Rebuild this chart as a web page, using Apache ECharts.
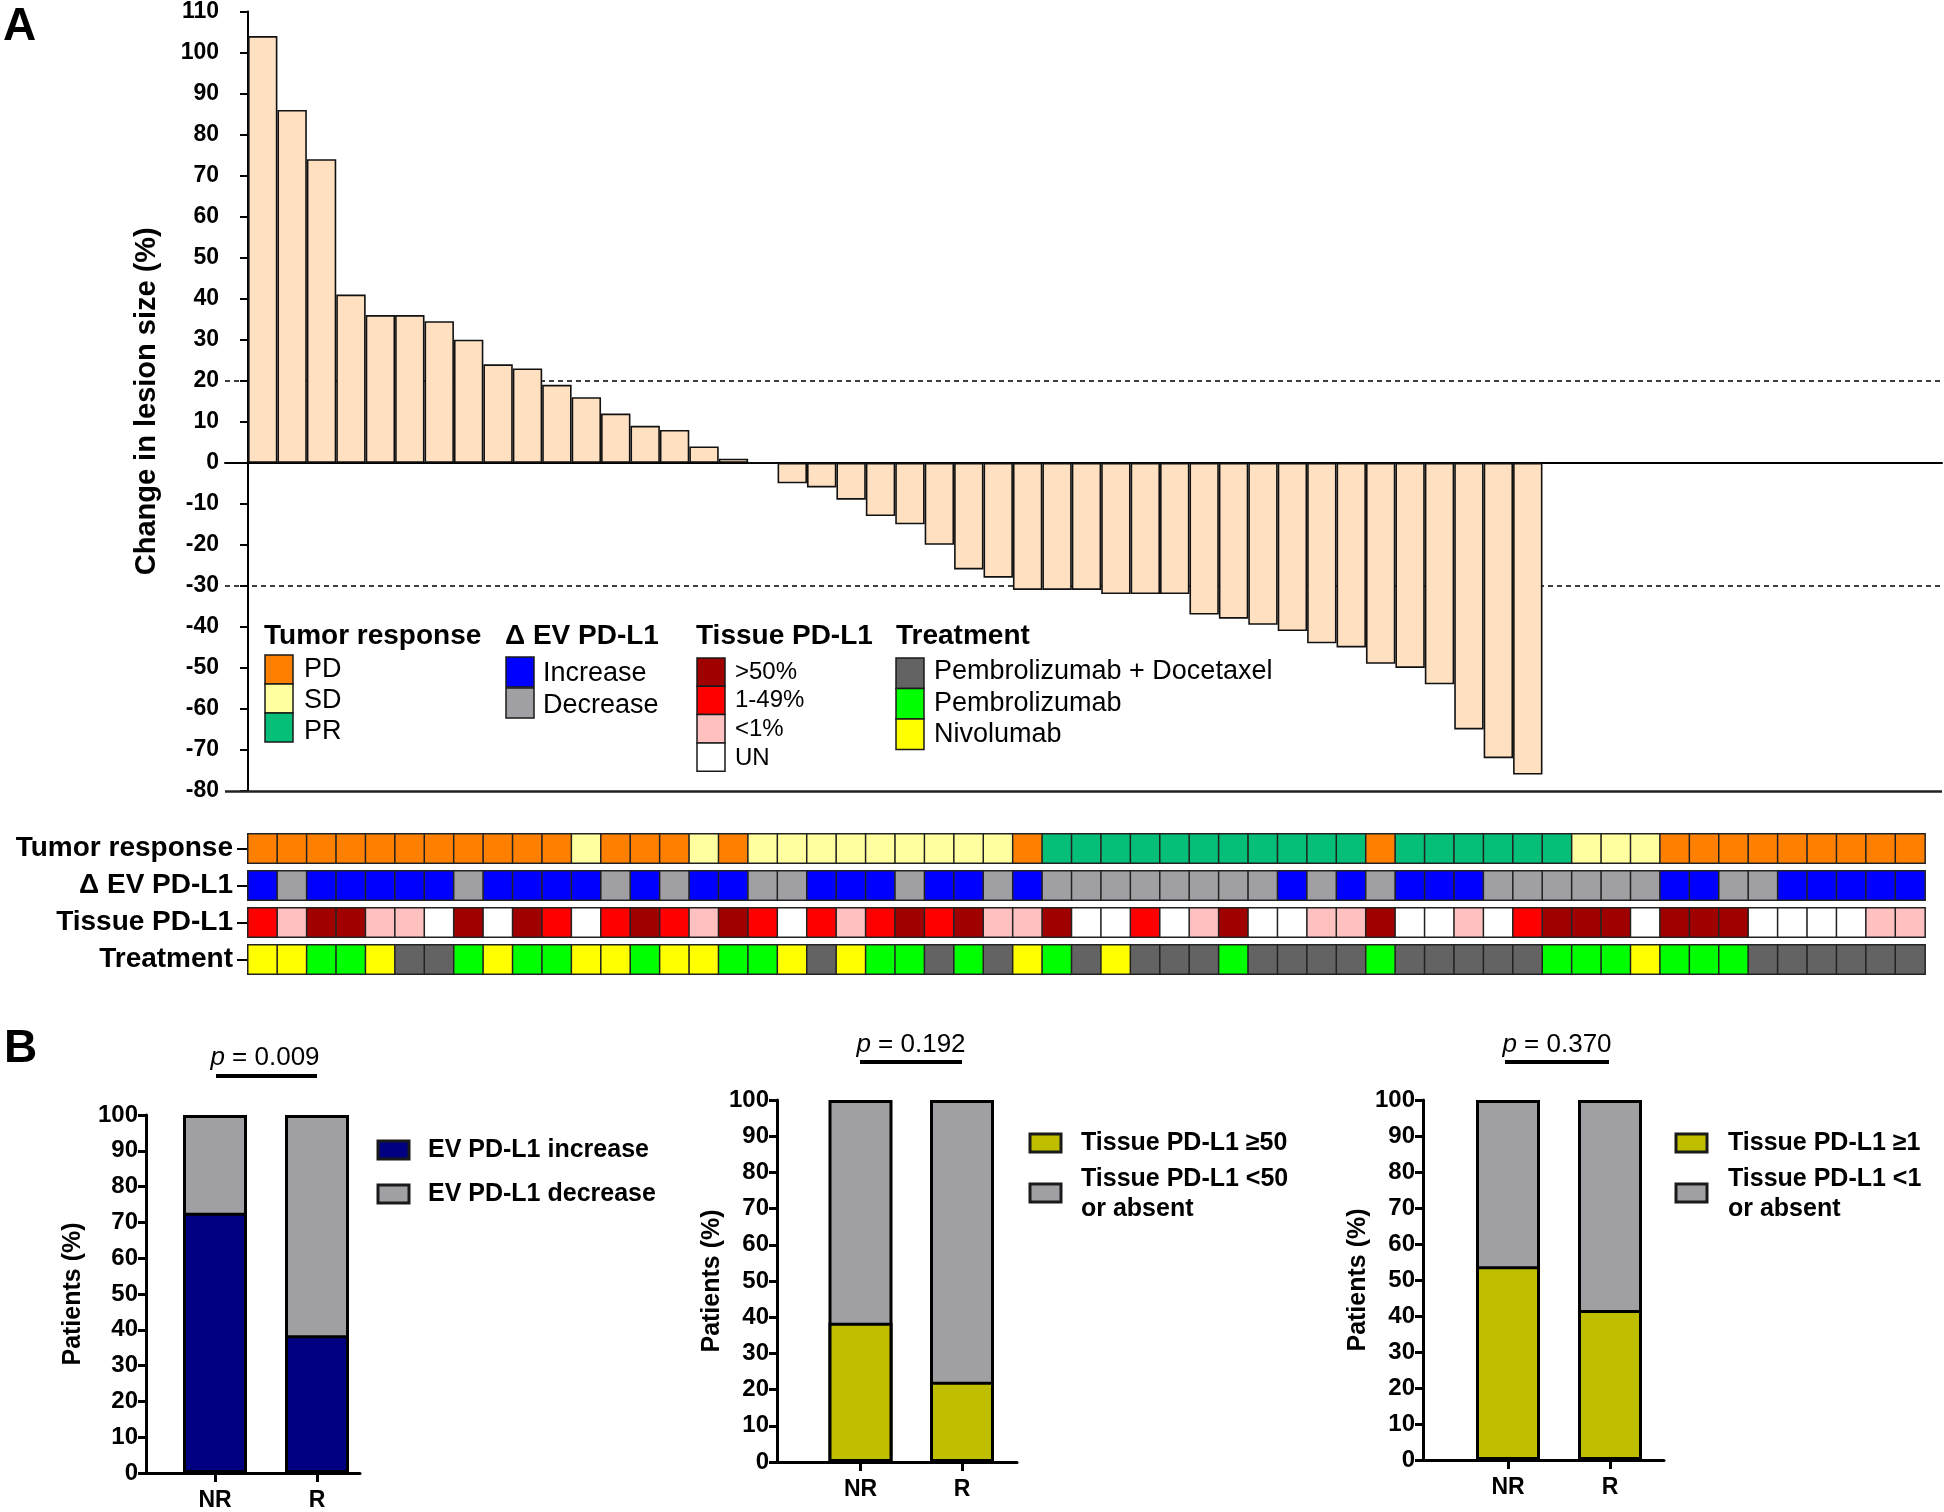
<!DOCTYPE html>
<html><head><meta charset="utf-8">
<script src="https://cdn.jsdelivr.net/npm/echarts@6/dist/echarts.min.js"></script>
<style>html,body{margin:0;padding:0;background:#fff}#c{width:1944px;height:1512px}</style>
</head><body><div id="c"></div>
<script>
// ================= DATA =================
// Panel A waterfall: change in lesion size (%) per patient (first 44 patients have a measurement)
const lesionChange = [104, 86, 74, 41, 36, 36, 34.5, 30, 24, 23, 19, 16, 12, 9, 8, 4, 1, 0,
  -5, -6, -9, -13, -15, -20, -26, -28, -31, -31, -31, -32, -32, -32, -37, -38, -39.5, -41,
  -44, -45, -49, -50, -54, -65, -72, -76];
const thresholdLines = [20, -30];

// Heat map rows (57 patients)
const rowLabels = ['Tumor response', 'Δ EV PD-L1', 'Tissue PD-L1', 'Treatment'];
const tumorResponse = ['PD','PD','PD','PD','PD','PD','PD','PD','PD','PD','PD','SD','PD','PD','PD','SD','PD',
  'SD','SD','SD','SD','SD','SD','SD','SD','SD','PD',
  'PR','PR','PR','PR','PR','PR','PR','PR','PR','PR','PR','PD','PR','PR','PR','PR','PR','PR',
  'SD','SD','SD','PD','PD','PD','PD','PD','PD','PD','PD','PD'];
const evChange = ['Increase','Decrease','Increase','Increase','Increase','Increase','Increase','Decrease','Increase','Increase',
  'Increase','Increase','Decrease','Increase','Decrease','Increase','Increase','Decrease','Decrease','Increase',
  'Increase','Increase','Decrease','Increase','Increase','Decrease','Increase','Decrease','Decrease','Decrease',
  'Decrease','Decrease','Decrease','Decrease','Decrease','Increase','Decrease','Increase','Decrease','Increase',
  'Increase','Increase','Decrease','Decrease','Decrease','Decrease','Decrease','Decrease','Increase','Increase',
  'Decrease','Decrease','Increase','Increase','Increase','Increase','Increase'];
const tissuePDL1 = ['1-49%','<1%','>50%','>50%','<1%','<1%','UN','>50%','UN','>50%',
  '1-49%','UN','1-49%','>50%','1-49%','<1%','>50%','1-49%','UN','1-49%',
  '<1%','1-49%','>50%','1-49%','>50%','<1%','<1%','>50%','UN','UN',
  '1-49%','UN','<1%','>50%','UN','UN','<1%','<1%','>50%','UN',
  'UN','<1%','UN','1-49%','>50%','>50%','>50%','UN','>50%','>50%',
  '>50%','UN','UN','UN','UN','<1%','<1%'];
const treatment = ['Nivolumab','Nivolumab','Pembrolizumab','Pembrolizumab','Nivolumab','Pembrolizumab + Docetaxel','Pembrolizumab + Docetaxel','Pembrolizumab','Nivolumab','Pembrolizumab',
  'Pembrolizumab','Nivolumab','Nivolumab','Pembrolizumab','Nivolumab','Nivolumab','Pembrolizumab','Pembrolizumab','Nivolumab','Pembrolizumab + Docetaxel',
  'Nivolumab','Pembrolizumab','Pembrolizumab','Pembrolizumab + Docetaxel','Pembrolizumab','Pembrolizumab + Docetaxel','Nivolumab','Pembrolizumab','Pembrolizumab + Docetaxel','Nivolumab',
  'Pembrolizumab + Docetaxel','Pembrolizumab + Docetaxel','Pembrolizumab + Docetaxel','Pembrolizumab','Pembrolizumab + Docetaxel','Pembrolizumab + Docetaxel','Pembrolizumab + Docetaxel','Pembrolizumab + Docetaxel','Pembrolizumab','Pembrolizumab + Docetaxel',
  'Pembrolizumab + Docetaxel','Pembrolizumab + Docetaxel','Pembrolizumab + Docetaxel','Pembrolizumab + Docetaxel','Pembrolizumab','Pembrolizumab','Pembrolizumab','Nivolumab','Pembrolizumab','Pembrolizumab',
  'Pembrolizumab','Pembrolizumab + Docetaxel','Pembrolizumab + Docetaxel','Pembrolizumab + Docetaxel','Pembrolizumab + Docetaxel','Pembrolizumab + Docetaxel','Pembrolizumab + Docetaxel'];

// Legend categories
const tumorCats = ['PD', 'SD', 'PR'];
const evCats = ['Increase', 'Decrease'];
const tissueCats = ['>50%', '1-49%', '<1%', 'UN'];
const treatCats = ['Pembrolizumab + Docetaxel', 'Pembrolizumab', 'Nivolumab'];

// Panel B
const groups = ['NR', 'R'];
const evIncreasePct = [72.7, 38.5];
const evDecreasePct = [27.3, 61.5];
const tissueGe50Pct = [38.5, 22.2];
const tissueLt50Pct = [61.5, 77.8];
const tissueGe1Pct = [53.8, 41.7];
const tissueLt1Pct = [46.2, 58.3];
const pValues = ['0.009', '0.192', '0.370'];

// ================= STYLE =================
const FONT = '"Liberation Sans", Arial, Helvetica, sans-serif';
const colors = {
  'PD': '#FF8000', 'SD': '#FFFF9F', 'PR': '#05BF78',
  'Increase': '#0000FF', 'Decrease': '#A0A0A4',
  '>50%': '#A00000', '1-49%': '#FF0000', '<1%': '#FFC0C0', 'UN': '#FFFFFF',
  'Pembrolizumab + Docetaxel': '#636363', 'Pembrolizumab': '#00FF00', 'Nivolumab': '#FFFF00'
};
const NAVY = '#000080', GRAY = '#A0A0A4', OLIVE = '#BFBF00', PEACH = '#FFE0C0';

const CELL = 29.42, HM_LEFT = 248, NCOL = tumorResponse.length;
const AX_A = 225, RIGHT_A = 1942;

const grid = [], xAxis = [], yAxis = [], series = [], graphic = [];

// ---- Panel A waterfall ----
grid.push({left: AX_A, top: 10, width: RIGHT_A - AX_A, height: 781});
xAxis.push({type: 'value', gridIndex: 0, min: (AX_A - HM_LEFT) / CELL, max: (RIGHT_A - HM_LEFT) / CELL,
  axisLine: {show: true, onZero: true, lineStyle: {color: '#000', width: 2}},
  axisTick: {show: false}, axisLabel: {show: false}, splitLine: {show: false}});
yAxis.push({type: 'value', gridIndex: 0, min: -80, max: 110, interval: 10,
  axisLine: {show: true, lineStyle: {color: '#000', width: 2}},
  axisTick: {show: true, length: 8, lineStyle: {color: '#000', width: 2}},
  axisLabel: {color: '#000', fontFamily: FONT, fontWeight: 'bold', fontSize: 23, margin: 6},
  splitLine: {show: false},
  name: 'Change in lesion size (%)', nameLocation: 'middle', nameGap: 64,
  nameTextStyle: {color: '#000', fontFamily: FONT, fontWeight: 'bold', fontSize: 29}});
series.push({type: 'bar', xAxisIndex: 0, yAxisIndex: 0, z: 3,
  data: lesionChange.map((v, i) => [i + 0.5, v]), barWidth: CELL,
  itemStyle: {color: PEACH, borderColor: '#111', borderWidth: 1.6},
  markLine: {silent: true, symbol: 'none', z: 1, label: {show: false},
    data: thresholdLines.map(v => ({yAxis: v, lineStyle: {type: [5, 4], color: '#000', width: 1.6}}))
      .concat([{yAxis: -80, lineStyle: {type: 'solid', color: '#222', width: 2.5}}])}});

// ---- Heat map rows ----
const rows = [tumorResponse, evChange, tissuePDL1, treatment];
rows.forEach((row, r) => {
  const gi = grid.length;
  grid.push({left: HM_LEFT, top: 834 + 37 * r, width: NCOL * CELL, height: 29});
  xAxis.push({type: 'category', gridIndex: gi, data: row.map((_, i) => i), show: false});
  yAxis.push({type: 'category', gridIndex: gi, data: [rowLabels[r]],
    axisLine: {show: false}, axisTick: {show: true, length: 11, alignWithLabel: true, lineStyle: {color: '#000', width: 2}},
    axisLabel: {color: '#000', fontFamily: FONT, fontWeight: 'bold', fontSize: 28, margin: 15}, splitLine: {show: false}});
  series.push({type: 'heatmap', xAxisIndex: gi, yAxisIndex: gi,
    data: row.map((c, i) => ({value: [i, 0, 1], itemStyle: {color: colors[c]}})),
    itemStyle: {borderColor: '#222', borderWidth: 1.5}, emphasis: {disabled: true}});
});

// ---- Panel B charts (gray total drawn first, coloured part drawn over it) ----
const bCharts = [
  {left: 146, top: 1115, bottom0: 1474, c1: 215, c2: 317, right: 360, a: evIncreasePct, b: evDecreasePct, ca: NAVY, nameGap: 60},
  {left: 777, top: 1100, bottom0: 1462, c1: 860.5, c2: 962, right: 1017, a: tissueGe50Pct, b: tissueLt50Pct, ca: OLIVE, nameGap: 48},
  {left: 1423, top: 1100, bottom0: 1460, c1: 1508, c2: 1610, right: 1664, a: tissueGe1Pct, b: tissueLt1Pct, ca: OLIVE, nameGap: 46}
];
bCharts.forEach((bc, k) => {
  const gi = grid.length;
  const unit = bc.c2 - bc.c1;
  grid.push({left: bc.left, top: bc.top, width: bc.right - bc.left, height: bc.bottom0 - bc.top});
  xAxis.push({type: 'value', gridIndex: gi, min: 1 - (bc.c1 - bc.left) / unit, max: 2 + (bc.right - bc.c2) / unit,
    axisLine: {show: true, onZero: false, lineStyle: {color: '#000', width: 3}},
    axisTick: {show: true, customValues: [1, 2], length: 9, lineStyle: {color: '#000', width: 3}},
    axisLabel: {show: true, customValues: [1, 2], formatter: v => groups[Math.round(v) - 1] || '',
      color: '#000', fontFamily: FONT, fontWeight: 'bold', fontSize: 23, margin: 16},
    splitLine: {show: false}});
  yAxis.push({type: 'value', gridIndex: gi, min: 0, max: 100, interval: 10,
    axisLine: {show: true, lineStyle: {color: '#000', width: 3}},
    axisTick: {show: true, length: 8, lineStyle: {color: '#000', width: 3}},
    axisLabel: {color: '#000', fontFamily: FONT, fontWeight: 'bold', fontSize: 24, margin: 8},
    splitLine: {show: false},
    name: 'Patients (%)', nameLocation: 'middle', nameGap: bc.nameGap,
    nameTextStyle: {color: '#000', fontFamily: FONT, fontWeight: 'bold', fontSize: 25}});
  series.push({type: 'bar', xAxisIndex: gi, yAxisIndex: gi, barWidth: 64, barGap: '-100%',
    data: bc.a.map((v, i) => [i + 1, v + bc.b[i]]), itemStyle: {color: GRAY, borderColor: '#000', borderWidth: 3}});
  series.push({type: 'bar', xAxisIndex: gi, yAxisIndex: gi, barWidth: 64, barGap: '-100%',
    data: bc.a.map((v, i) => [i + 1, v]), itemStyle: {color: bc.ca, borderColor: '#000', borderWidth: 3}});
});

// ---- Graphic text / legends ----
function txt(x, y, text, size, weight, align, rich) {
  return {type: 'text', x: x, y: y, z: 10, style: {text: text, fill: '#000', fontFamily: FONT, fontSize: size,
    fontWeight: weight || 'normal', align: align || 'left', verticalAlign: 'middle', rich: rich}};
}
function rect(x, y, w, h, color, lw) {
  return {type: 'rect', z: 10, shape: {x: x, y: y, width: w, height: h}, style: {fill: color, stroke: '#1a1a1a', lineWidth: lw || 1.5}};
}
graphic.push(txt(3, 27, 'A', 46, 'bold'));
graphic.push(txt(4, 1049, 'B', 46, 'bold'));

// Panel A legend
graphic.push(txt(264, 636, 'Tumor response', 28, 'bold'));
tumorCats.forEach((c, k) => { graphic.push(rect(265, 655 + k * 29, 28, 29, colors[c])); graphic.push(txt(304, 670 + k * 31, c, 27)); });
graphic.push(txt(505, 636, 'Δ EV PD-L1', 28, 'bold'));
evCats.forEach((c, k) => { graphic.push(rect(506, 657 + k * 31, 28, 30, colors[c])); graphic.push(txt(543, 674 + k * 32, c, 27)); });
graphic.push(txt(696, 636, 'Tissue PD-L1', 28, 'bold'));
tissueCats.forEach((c, k) => { graphic.push(rect(697, 658 + k * 28.3, 28, 28.3, colors[c])); graphic.push(txt(735, 672 + k * 28.7, c, 24)); });
graphic.push(txt(896, 636, 'Treatment', 28, 'bold'));
treatCats.forEach((c, k) => { graphic.push(rect(896, 658 + k * 30.5, 28, 30.5, colors[c])); graphic.push(txt(934, 672 + k * 31.5, c, 27)); });

// Panel B p-values and legends
const pPos = [[265, 1058, 216, 317, 1076], [911, 1045, 860, 962, 1062], [1557, 1045, 1505, 1609, 1062]];
pPos.forEach((p, k) => {
  graphic.push(txt(p[0], p[1], '{i|p} = ' + pValues[k], 26, 'normal', 'center',
    {i: {fontStyle: 'italic', fontFamily: FONT, fontSize: 26}}));
  graphic.push({type: 'line', z: 10, shape: {x1: p[2], y1: p[4], x2: p[3], y2: p[4]}, style: {stroke: '#000', lineWidth: 4}});
});
const bLegends = [
  {sx: 378, lx: 428, items: [[NAVY, ['EV PD-L1 increase']], [GRAY, ['EV PD-L1 decrease']]], ys: [1150, 1194]},
  {sx: 1030, lx: 1081, items: [[OLIVE, ['Tissue PD-L1 ≥50']], [GRAY, ['Tissue PD-L1 <50', 'or absent']]], ys: [1143, 1193]},
  {sx: 1676, lx: 1728, items: [[OLIVE, ['Tissue PD-L1 ≥1']], [GRAY, ['Tissue PD-L1 <1', 'or absent']]], ys: [1143, 1193]}
];
bLegends.forEach(bl => {
  bl.items.forEach((it, k) => {
    graphic.push(rect(bl.sx, bl.ys[k] - 9, 31, 18, it[0], 3));
    if (it[1].length === 1) graphic.push(txt(bl.lx, bl.ys[k], it[1][0], 25, 'bold'));
    else { graphic.push(txt(bl.lx, bl.ys[k] - 14, it[1][0], 25, 'bold')); graphic.push(txt(bl.lx, bl.ys[k] + 16, it[1][1], 25, 'bold')); }
  });
});

const chart = echarts.init(document.getElementById('c'), null, {renderer: 'canvas'});
chart.setOption({animation: false, backgroundColor: '#fff', grid: grid, xAxis: xAxis, yAxis: yAxis, series: series, graphic: graphic});
</script></body></html>
